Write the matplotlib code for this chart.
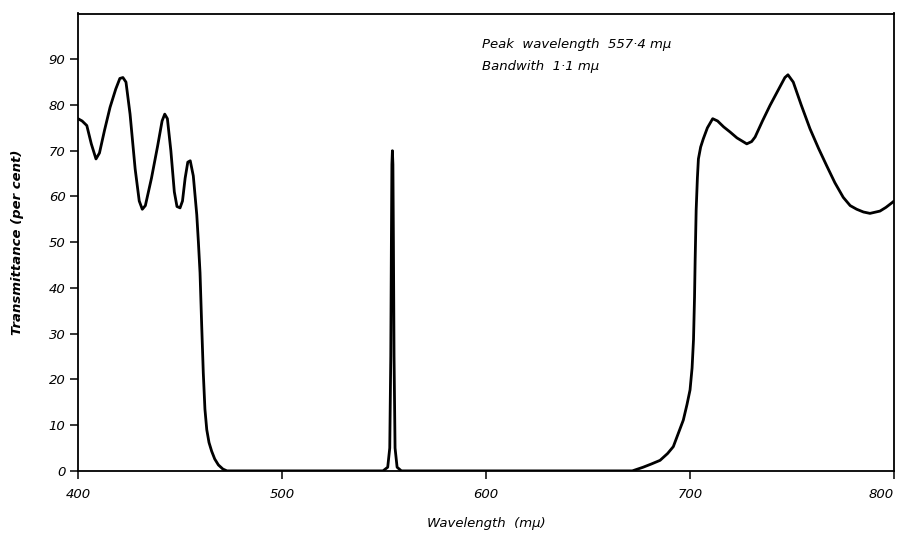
import matplotlib
matplotlib.use("Agg")
import matplotlib.pyplot as plt

# Wavelength (m-mu) and transmittance (per cent)
wavelength = [
    400.0, 402.0, 404.3, 406.5, 408.8, 410.5, 413.0, 415.7, 418.5, 420.5, 422.0, 423.5,
    425.5, 428.0, 430.0, 431.5, 433.0, 436.0, 439.0, 441.2, 442.5, 443.8, 445.5, 447.2,
    448.5, 450.0, 451.2, 452.5, 453.8, 455.0, 456.5, 458.2, 459.0, 459.8, 460.6, 461.4,
    462.2, 463.1, 464.2, 465.5, 467.0, 468.8, 471.0, 473.0,
    549.5, 551.8, 552.8, 553.3, 553.6, 553.85, 554.1, 554.35, 554.6, 554.9, 555.4, 556.4, 558.5,
    671.7, 677.0, 681.0, 685.3, 689.0, 691.8, 694.5, 696.7, 698.5, 700.0, 701.0, 701.7,
    702.2, 702.5, 703.0, 703.6, 704.1, 705.2, 706.5, 708.5, 711.1, 713.5, 716.5, 719.6,
    723.0, 727.8, 730.2, 731.9, 735.5, 739.2, 743.5, 746.5, 748.0, 750.6, 754.5, 758.8,
    763.0, 767.0, 771.0, 775.1, 778.5, 781.7, 785.0, 788.2, 793.1, 796.0, 799.2, 800.0,
]
transmittance = [
    77.0, 76.5, 75.5, 71.5, 68.2, 69.5, 74.5, 79.5, 83.5, 85.8, 86.0, 85.0,
    78.0, 66.0, 59.0, 57.2, 58.0, 64.0, 71.0, 76.5, 78.0, 77.0, 70.0, 61.0,
    57.8, 57.5, 59.0, 64.0, 67.5, 67.8, 64.5, 56.0, 50.0, 43.3, 32.0, 21.4,
    13.5, 9.0, 6.2, 4.3, 2.6, 1.3, 0.4, 0.0,
    0.0, 0.8, 5.0, 25.0, 50.0, 67.0, 70.0, 67.0, 50.0, 25.0, 5.0, 0.8, 0.0,
    0.0, 0.8, 1.5, 2.3, 3.8, 5.3, 8.5, 11.1, 14.5, 17.7, 22.5, 28.7,
    38.0, 46.0, 57.0, 64.0, 68.2, 70.8, 72.6, 75.0, 77.0, 76.5, 75.2, 74.1,
    72.8, 71.5, 72.0, 73.0, 76.5, 79.9, 83.5, 86.0, 86.6, 85.0, 80.0, 74.8,
    70.5, 66.7, 63.0, 59.8, 58.0, 57.2, 56.6, 56.3, 56.8, 57.6, 58.7, 59.0,
]

x_ticks = [400, 500, 600, 700, 800]
y_ticks = [0, 10, 20, 30, 40, 50, 60, 70, 80, 90]

fig = plt.figure(figsize=(8.97, 5.40), dpi=100)
ax = fig.add_axes([0.087, 0.128, 0.9097, 0.847])

ax.plot(wavelength, transmittance, color="black", linewidth=2.0,
        solid_joinstyle="round", solid_capstyle="round")

ax.set_xlim(400, 800)
ax.set_ylim(0, 100)
ax.set_xticks(x_ticks)
ax.set_yticks(y_ticks)

fs = 9.5
xlabels = ax.set_xticklabels([str(t) for t in x_ticks], fontsize=fs, fontstyle="italic")
xlabels[-1].set_horizontalalignment("right")
ax.set_yticklabels([str(t) for t in y_ticks], fontsize=fs, fontstyle="italic")
ax.tick_params(axis="both", direction="out", length=6, width=1.1, color="black")
ax.tick_params(axis="x", pad=6)
ax.tick_params(axis="y", pad=3)

for sp in ax.spines.values():
    sp.set_linewidth(1.3)
    sp.set_color("black")

ax.set_xlabel("Wavelength  (mμ)", fontsize=fs, fontstyle="italic", labelpad=12)
ax.set_ylabel("Transmittance (per cent)", fontsize=fs, fontstyle="italic",
              fontweight="bold", labelpad=18)

ax.text(0.495, 0.932, "Peak  wavelength  557·4 mμ", transform=ax.transAxes,
        fontsize=fs, fontstyle="italic", ha="left", va="center")
ax.text(0.495, 0.884, "Bandwith  1·1 mμ", transform=ax.transAxes,
        fontsize=fs, fontstyle="italic", ha="left", va="center")

fig.savefig("out.png", dpi=100)
